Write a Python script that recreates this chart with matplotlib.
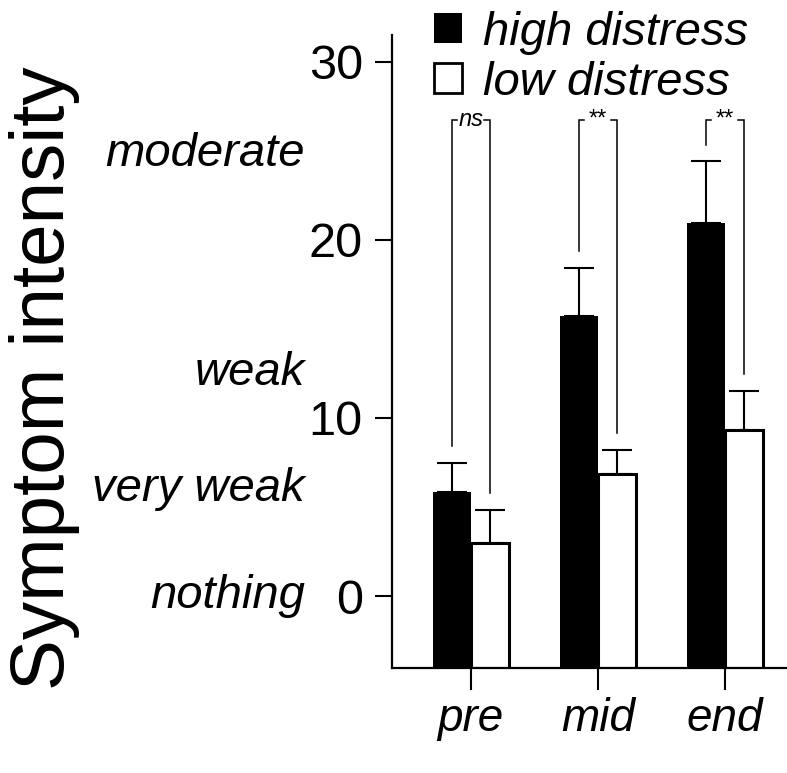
import matplotlib
matplotlib.use("Agg")
import matplotlib.pyplot as plt
from matplotlib.patches import Patch
import numpy as np

plt.rcParams['font.family'] = ['Liberation Sans', 'DejaVu Sans']

# ---- data ----
phases = ["pre", "mid", "end"]
high_mean = [5.85, 15.75, 20.95]
high_err = [1.6, 2.65, 3.45]
low_mean = [2.98, 6.85, 9.35]
low_err = [1.85, 1.35, 2.15]
sig_labels = ["ns", "**", "**"]
level_names = ["nothing", "very weak", "weak", "moderate"]
level_pos = [0, 6.0, 12.5, 24.8]
yticks = [0, 10, 20, 30]

fig = plt.figure(figsize=(7.87, 7.73), dpi=100)
ax = fig.add_axes([392/787, 1-668/773, 1-392/787, (668-35)/773])

ybot, ytop = -4.04, 31.5
x = np.arange(len(phases))
w = 0.3

ax.bar(x - w/2, np.array(high_mean) - ybot, bottom=ybot, width=w,
       color='black', edgecolor='black', linewidth=0, zorder=2)
ax.bar(x + w/2, np.array(low_mean) - ybot, bottom=ybot, width=w,
       color='white', edgecolor='black', linewidth=2.2, zorder=2)

ax.errorbar(x - w/2, high_mean, yerr=[np.zeros(3), high_err], fmt='none',
            ecolor='black', elinewidth=1.5, capsize=11, capthick=1.5, zorder=3)
ax.errorbar(x + w/2, low_mean, yerr=[np.zeros(3), low_err], fmt='none',
            ecolor='black', elinewidth=1.5, capsize=11, capthick=1.5, zorder=3)

# significance brackets
top = 26.7
gap = 0.95
serif = 0.045
for i in range(len(phases)):
    xl, xr = x[i] - w/2, x[i] + w/2
    yl = high_mean[i] + high_err[i] + gap
    yr = low_mean[i] + low_err[i] + gap
    ax.plot([xl, xl, xl + serif], [yl, top, top], color='black', lw=1.1,
            solid_joinstyle='miter', zorder=3)
    ax.plot([xr, xr, xr - serif], [yr, top, top], color='black', lw=1.1,
            solid_joinstyle='miter', zorder=3)
    ax.text(x[i], top - 0.3, sig_labels[i], ha='center', va='baseline',
            fontsize=17, style='italic' if sig_labels[i] == 'ns' else 'normal')

ax.set_xlim(-0.62, 2.49)
ax.set_ylim(ybot, ytop)
ax.set_xticks(x)
ax.set_xticklabels(phases, fontsize=33, style='italic')
ax.set_yticks(yticks)
ax.set_yticklabels([str(t) for t in yticks], fontsize=35)
ax.tick_params(axis='y', length=12, width=1.5, pad=9)
ax.tick_params(axis='x', length=16, width=1.5, pad=5)
for s in ['top', 'right']:
    ax.spines[s].set_visible(False)
for s in ['left', 'bottom']:
    ax.spines[s].set_linewidth(1.6)

# qualitative level labels
for name, pos in zip(level_names, level_pos):
    ax.text(-0.22, pos, name, transform=ax.get_yaxis_transform(),
            ha='right', va='center', fontsize=34, style='italic')

fig.text(45/787, 1 - 378/773, "Symptom intensity", rotation=90,
         ha='center', va='center', fontsize=55)

handles = [Patch(facecolor='black', edgecolor='black', linewidth=0),
           Patch(facecolor='white', edgecolor='black', linewidth=2)]
leg = fig.legend(handles, ["high distress", "low distress"],
                 loc='upper left', bbox_to_anchor=(415/787, 1 + 8/773),
                 frameon=False, prop={'size': 34, 'style': 'italic'},
                 handlelength=0.6, handleheight=0.6, handletextpad=0.45,
                 labelspacing=0.12, borderaxespad=0)

fig.savefig("out.png", dpi=100)
